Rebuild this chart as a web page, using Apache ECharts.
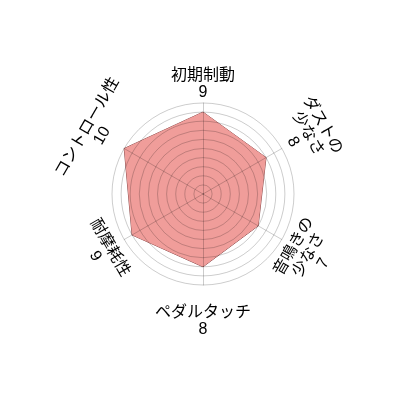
<!DOCTYPE html>
<html>
<head>
<meta charset="utf-8">
<script src="https://cdn.jsdelivr.net/npm/echarts@6/dist/echarts.min.js"></script>
<style>
  html, body { margin: 0; padding: 0; background: #fff; }
  #chart { width: 400px; height: 400px; }
</style>
</head>
<body>
<div id="chart"></div>
<script>
// clockwise from the top
var categories = ['初期制動', 'ダストの\n少なさ', '音鳴きの\n少なさ', 'ペダルタッチ', '耐摩耗性', 'コントロール性'];
var values = [9, 8, 7, 8, 9, 10];
var maxValue = 10;

var cx = 203, cy = 194, radius = 91;
// distance of each label block from the centre
var labelDist = [110, 121, 122, 127, 116, 125];

// echarts lays indicators out counter-clockwise, so flip the order (keep the top one first)
var order = [0, 5, 4, 3, 2, 1];
var indicator = order.map(function (i) { return { name: categories[i], max: maxValue }; });
var seriesData = order.map(function (i) { return values[i]; });

var graphics = categories.map(function (name, i) {
  var a = i * 60;
  var rad = a * Math.PI / 180;
  var rot = a <= 90 || a >= 270 ? a : a - 180;
  if (rot > 180) rot -= 360;
  return {
    type: 'text',
    x: cx + labelDist[i] * Math.sin(rad),
    y: cy - labelDist[i] * Math.cos(rad),
    rotation: -rot * Math.PI / 180,
    style: {
      text: name + '\n' + values[i],
      fill: '#000',
      font: '16px "Liberation Sans", "Noto Sans CJK JP"',
      lineHeight: 17,
      align: 'center',
      verticalAlign: 'middle'
    }
  };
});

var chart = echarts.init(document.getElementById('chart'));
chart.setOption({
  animation: false,
  radar: {
    z: 3,
    center: [cx, cy],
    radius: radius,
    shape: 'circle',
    splitNumber: 10,
    startAngle: 90,
    indicator: indicator,
    axisName: { show: false },
    axisLine: { lineStyle: { color: 'rgba(0,0,0,0.2)', width: 1 } },
    splitLine: { lineStyle: { color: 'rgba(0,0,0,0.2)', width: 1 } },
    splitArea: { show: false }
  },
  series: [{
    type: 'radar',
    z: 2,
    symbol: 'none',
    lineStyle: { color: '#8a4a4a', width: 1 },
    areaStyle: { color: '#f09d9a', opacity: 1 },
    data: [{ value: seriesData }]
  }],
  graphic: graphics
});
</script>
</body>
</html>
